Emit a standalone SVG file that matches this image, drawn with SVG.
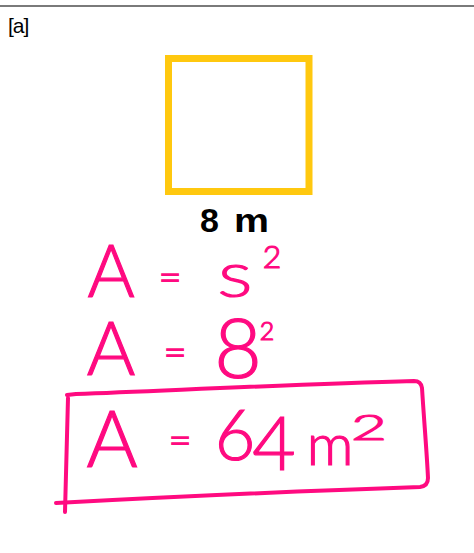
<svg xmlns="http://www.w3.org/2000/svg" width="474" height="553" viewBox="0 0 474 553">
<style>
.ink{fill:#ff0a80;stroke:#ff0a80;stroke-width:1.2;font-family:Lato,"Open Sans",sans-serif;font-weight:300;text-anchor:middle}
.inkline{fill:none;stroke:#ff0a80;stroke-width:4;stroke-linecap:round;stroke-linejoin:round}
.lbl{font-family:'Liberation Sans',Arial,sans-serif;font-weight:bold;font-size:34px;fill:#000}
</style>
<rect x="0" y="0" width="474" height="553" fill="#ffffff"/>
<line x1="0" y1="6" x2="474" y2="6" stroke="#7a7a7a" stroke-width="2"/>
<text x="8" y="33" font-family="'Liberation Sans',Arial,sans-serif" font-size="21" letter-spacing="-1" fill="#000">[a]</text>
<g id="square">
<rect x="168.5" y="58.5" width="140.5" height="133" fill="none" stroke="#ffc80f" stroke-width="7"/>
<text class="lbl" x="200" y="232">8</text>
<text class="lbl" x="234" y="232" textLength="35" lengthAdjust="spacingAndGlyphs">m</text>
</g>
<g id="line1">
<text class="ink" x="111" y="297" font-size="72">A</text>
<text class="ink" x="170" y="291" font-size="40">=</text>
<text class="ink" x="235" y="297" font-size="45" textLength="34" lengthAdjust="spacingAndGlyphs">S</text>
<text class="ink" x="272" y="268" font-size="32">2</text>
</g>
<g id="line2">
<text class="ink" x="111" y="375" font-size="74">A</text>
<text class="ink" x="175" y="366" font-size="40">=</text>
<text class="ink" x="238" y="378" font-size="82">8</text>
<text class="ink" x="267" y="340" font-size="25">2</text>
</g>
<g id="line3">
<text class="ink" x="112" y="467" font-size="78">A</text>
<text class="ink" x="180" y="454" font-size="40">=</text>
<text class="ink" x="235" y="460" font-size="70">6</text>
<text class="ink" x="274" y="470" font-size="75">4</text>
<text class="ink" x="330" y="465" font-size="58">m</text>
<text class="ink" x="369" y="440" font-size="36" textLength="36" lengthAdjust="spacingAndGlyphs">2</text>
<path class="inkline" d="M67,395 L76,394 C180,390 300,384 414,381 Q421,381 422,388 C424,420 427,455 428,478 Q428,486 420,487 C300,491 170,497 56,503"/>
<path class="inkline" d="M68,398 C67,430 66,470 65,512"/>
</g>
</svg>
